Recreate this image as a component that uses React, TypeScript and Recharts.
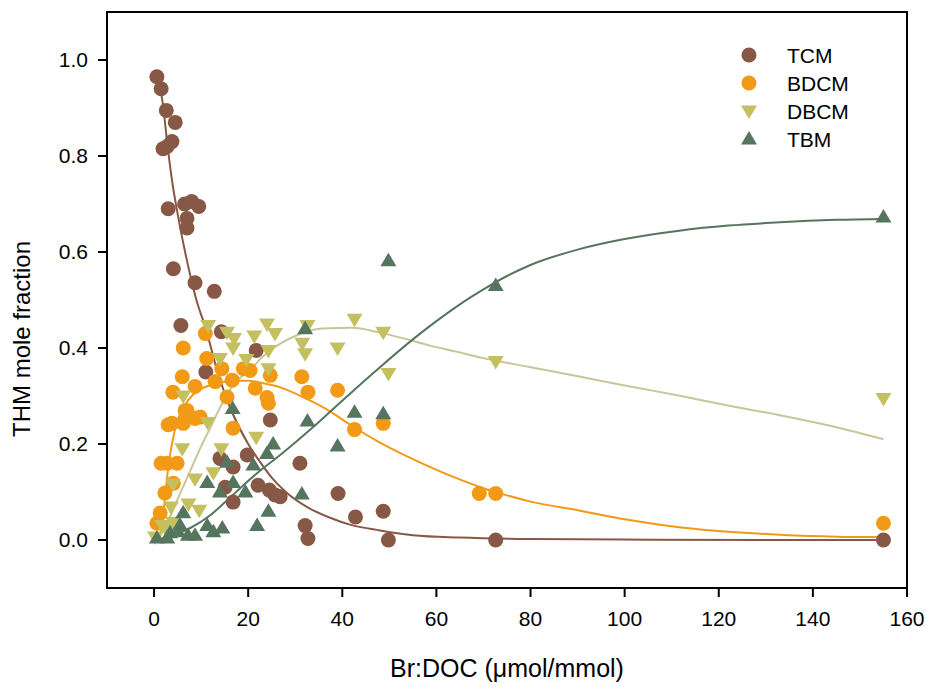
import React from "react";
import {
  ComposedChart, Scatter, Line, XAxis, YAxis, ReferenceArea,
} from "recharts";

// measured points, Br:DOC (x) vs THM mole fraction (y)
const tcmPoints = [
  [0.6, 0.965], [1.5, 0.94], [2.6, 0.895], [1.9, 0.815], [2.8, 0.82], [3.8, 0.83], [4.5, 0.87],
  [3.0, 0.69], [4.1, 0.565], [5.7, 0.447], [6.5, 0.7], [7.0, 0.67], [7.0, 0.65], [8.0, 0.705],
  [9.5, 0.695], [8.7, 0.536], [12.8, 0.518], [11.0, 0.35], [14.3, 0.434], [21.7, 0.395],
  [24.7, 0.25], [14.0, 0.17], [19.8, 0.177], [16.8, 0.152], [15.1, 0.11], [16.8, 0.079],
  [22.1, 0.114], [24.5, 0.104], [25.7, 0.094], [26.8, 0.09], [31.0, 0.16], [39.1, 0.097],
  [32.1, 0.03], [32.7, 0.003], [42.8, 0.048], [48.7, 0.06], [49.8, 0.0], [72.6, 0.0], [155, 0.0],
];
const bdcmPoints = [
  [0.6, 0.035], [1.3, 0.056], [2.3, 0.098], [2.8, 0.16], [4.9, 0.16], [1.5, 0.16], [4.1, 0.118],
  [3.8, 0.243], [3.0, 0.24], [6.2, 0.243], [6.6, 0.27], [7.0, 0.27], [8.7, 0.253], [9.8, 0.256],
  [4.0, 0.308], [6.0, 0.34], [6.2, 0.4], [8.7, 0.32], [10.9, 0.43], [11.2, 0.378], [13.0, 0.33],
  [14.4, 0.357], [15.5, 0.298], [16.6, 0.333], [16.8, 0.233], [19.0, 0.357], [20.4, 0.353],
  [21.5, 0.316], [24.0, 0.297], [24.3, 0.285], [24.7, 0.343], [31.4, 0.34], [32.7, 0.308],
  [39.0, 0.312], [42.6, 0.23], [48.7, 0.243], [69.1, 0.097], [72.6, 0.097], [155, 0.035],
];
const dbcmPoints = [
  [0.2, 0.006], [1.7, 0.03], [2.3, 0.027], [4.0, 0.037], [3.6, 0.069], [7.3, 0.075], [9.6, 0.062],
  [4.0, 0.116], [8.7, 0.127], [12.6, 0.14], [6.0, 0.19], [14.3, 0.19], [11.4, 0.245], [21.7, 0.214],
  [6.2, 0.3], [11.5, 0.447], [15.5, 0.433], [17.0, 0.42], [16.8, 0.4], [14.0, 0.378], [19.6, 0.376],
  [21.3, 0.425], [24.0, 0.45], [25.7, 0.43], [24.3, 0.395], [24.3, 0.357], [31.5, 0.41],
  [32.6, 0.447], [32.1, 0.388], [39.0, 0.4], [42.6, 0.46], [48.7, 0.433], [49.8, 0.347],
  [72.6, 0.372], [155, 0.295],
];
const tbmPoints = [
  [0.6, 0.004], [2.8, 0.004], [3.4, 0.015], [5.1, 0.017], [5.5, 0.031], [7.2, 0.01], [8.7, 0.01],
  [6.2, 0.057], [11.3, 0.03], [12.6, 0.017], [14.5, 0.025], [11.3, 0.12], [14.0, 0.1], [16.8, 0.12],
  [15.5, 0.162], [19.4, 0.1], [21.1, 0.156], [24.0, 0.18], [25.3, 0.2], [16.7, 0.274], [24.3, 0.06],
  [21.9, 0.03], [31.4, 0.096], [32.6, 0.248], [39.0, 0.196], [42.6, 0.266], [48.7, 0.263],
  [32.1, 0.44], [49.8, 0.582], [72.6, 0.53], [155, 0.673],
];

// fitted curves
const tcmFit = [
  [0.6, 0.97], [1.7, 0.92], [3.0, 0.81], [3.8, 0.75], [5.0, 0.68], [6.6, 0.6], [9.0, 0.5],
  [11.0, 0.44], [13.5, 0.35], [16.0, 0.28], [20.0, 0.2], [22.0, 0.17], [25.0, 0.13], [28.0, 0.1],
  [33.0, 0.066], [37.0, 0.048], [42.0, 0.031], [48.0, 0.02], [55.0, 0.01], [65.0, 0.005],
  [80.0, 0.002], [100, 0.001], [130, 0.0], [155, 0.0],
];
const bdcmFit = [
  [1.2, 0.0], [2.3, 0.085], [3.0, 0.15], [3.8, 0.2], [5.0, 0.25], [6.5, 0.28], [8.0, 0.3],
  [10.0, 0.315], [13.0, 0.325], [17.0, 0.332], [20.0, 0.332], [23.0, 0.327], [26.8, 0.318],
  [32.0, 0.296], [37.4, 0.268], [42.0, 0.238], [48.0, 0.203], [53.0, 0.178], [58.7, 0.152],
  [64.0, 0.13], [69.4, 0.11], [75.0, 0.093], [80.0, 0.08], [90.6, 0.061], [100, 0.043],
  [112, 0.026], [122, 0.017], [133, 0.011], [145, 0.007], [155, 0.006],
];
const dbcmFit = [
  [0.8, 0.0], [3.0, 0.04], [5.0, 0.085], [7.5, 0.14], [10.0, 0.195], [12.0, 0.235], [14.5, 0.285],
  [17.0, 0.325], [20.4, 0.355], [24.0, 0.39], [27.0, 0.41], [30.0, 0.425], [33.0, 0.436],
  [37.0, 0.441], [42.0, 0.442], [48.0, 0.432], [53.0, 0.42], [58.7, 0.405], [64.0, 0.393],
  [69.4, 0.38], [80.0, 0.36], [90.6, 0.34], [100, 0.322], [112, 0.3], [122, 0.28], [133, 0.26],
  [145, 0.235], [155, 0.21],
];
const tbmFit = [
  [0.8, 0.0], [4.0, 0.01], [7.7, 0.025], [12.0, 0.052], [15.0, 0.078], [18.3, 0.108],
  [22.0, 0.14], [26.8, 0.177], [30.0, 0.203], [33.2, 0.23], [37.4, 0.267], [42.0, 0.308],
  [48.0, 0.36], [55.0, 0.418], [60.0, 0.456], [65.0, 0.491], [70.0, 0.522], [75.0, 0.55],
  [80.0, 0.573], [90.0, 0.605], [100, 0.627], [112, 0.645], [122, 0.655], [133, 0.662],
  [145, 0.667], [155, 0.669],
];

const xTicks = [0, 20, 40, 60, 80, 100, 120, 140, 160];
const yTicks = [0, 0.2, 0.4, 0.6, 0.8, 1.0];
const seriesNames = ["TCM", "BDCM", "DBCM", "TBM"];

const toXY = (arr: number[][]) => arr.map(([x, y]) => ({ x, y }));

const FONT = "Arial, 'Liberation Sans', sans-serif";
const C_TCM = "#875846";
const C_BDCM = "#F29A16";
const C_DBCM = "#C4C060";
const C_DBCM_LINE = "#C9C59A";
const C_TBM = "#55755F";

const circle = (color: string) => (p: any) => (
  <circle cx={p.cx} cy={p.cy} r={7.5} fill={color} />
);
const triUp = (color: string) => (p: any) => (
  <path d={`M${p.cx},${p.cy - 8} L${p.cx + 8},${p.cy + 5.5} L${p.cx - 8},${p.cy + 5.5}Z`} fill={color} />
);
const triDown = (color: string) => (p: any) => (
  <path d={`M${p.cx},${p.cy + 8} L${p.cx + 8},${p.cy - 5.5} L${p.cx - 8},${p.cy - 5.5}Z`} fill={color} />
);

const legendMarks = [
  (cx: number, cy: number) => <circle cx={cx} cy={cy} r={7.5} fill={C_TCM} />,
  (cx: number, cy: number) => <circle cx={cx} cy={cy} r={7.5} fill={C_BDCM} />,
  (cx: number, cy: number) => (
    <path d={`M${cx},${cy + 8} L${cx + 8},${cy - 5.5} L${cx - 8},${cy - 5.5}Z`} fill={C_DBCM} />
  ),
  (cx: number, cy: number) => (
    <path d={`M${cx},${cy - 8} L${cx + 8},${cy + 5.5} L${cx - 8},${cy + 5.5}Z`} fill={C_TBM} />
  ),
];

export default function App() {
  return (
    <div style={{ position: "absolute", left: 0, top: 0, width: 926, height: 683, background: "#fff" }}>
      <ComposedChart width={926} height={683} margin={{ top: 12, right: 19, left: 0, bottom: 0 }}>
        <XAxis
          dataKey="x"
          type="number"
          domain={[-10, 160]}
          ticks={xTicks}
          allowDataOverflow
          height={95}
          stroke="#000"
          strokeWidth={2}
          tickSize={9}
          tickMargin={14}
          tick={{ fill: "#000", fontSize: 21, fontFamily: FONT }}
          label={{
            value: "Br:DOC (\u03bcmol/mmol)",
            position: "insideBottom",
            offset: 6,
            fill: "#000",
            fontSize: 25,
            fontFamily: FONT,
          }}
        />
        <YAxis
          dataKey="y"
          type="number"
          domain={[-0.1, 1.1]}
          ticks={yTicks}
          allowDataOverflow
          width={107}
          stroke="#000"
          strokeWidth={2}
          tickSize={9}
          tickMargin={10}
          tickFormatter={(v: number) => v.toFixed(1)}
          tick={{ fill: "#000", fontSize: 21, fontFamily: FONT }}
          label={() => (
            <text
              x={21}
              y={339}
              transform="rotate(-90 21 339)"
              textAnchor="middle"
              dominantBaseline="central"
              fill="#000"
              fontSize={24}
              fontFamily={FONT}
            >
              THM mole fraction
            </text>
          )}
        />
        <ReferenceArea x1={-10} x2={160} y1={-0.1} y2={1.1} fill="none" stroke="#000" strokeWidth={2} />
        <Scatter name="TCM" data={toXY(tcmPoints)} shape={circle(C_TCM)} isAnimationActive={false} />
        <Scatter name="BDCM" data={toXY(bdcmPoints)} shape={circle(C_BDCM)} isAnimationActive={false} />
        <Scatter name="DBCM" data={toXY(dbcmPoints)} shape={triDown(C_DBCM)} isAnimationActive={false} />
        <Scatter name="TBM" data={toXY(tbmPoints)} shape={triUp(C_TBM)} isAnimationActive={false} />
        <Line data={toXY(tcmFit)} dataKey="y" type="monotone" stroke={C_TCM} strokeWidth={2} dot={false} activeDot={false} isAnimationActive={false} />
        <Line data={toXY(bdcmFit)} dataKey="y" type="monotone" stroke={C_BDCM} strokeWidth={2} dot={false} activeDot={false} isAnimationActive={false} />
        <Line data={toXY(dbcmFit)} dataKey="y" type="monotone" stroke={C_DBCM_LINE} strokeWidth={2} dot={false} activeDot={false} isAnimationActive={false} />
        <Line data={toXY(tbmFit)} dataKey="y" type="monotone" stroke={C_TBM} strokeWidth={2} dot={false} activeDot={false} isAnimationActive={false} />
      </ComposedChart>
      <svg width={200} height={130} style={{ position: "absolute", left: 720, top: 30 }}>
        {seriesNames.map((name, i) => (
          <g key={name}>
            {legendMarks[i](29, 25 + i * 28)}
            <text x={67} y={25 + i * 28} dominantBaseline="central" fontSize={21} fontFamily={FONT} fill="#000">
              {name}
            </text>
          </g>
        ))}
      </svg>
    </div>
  );
}
